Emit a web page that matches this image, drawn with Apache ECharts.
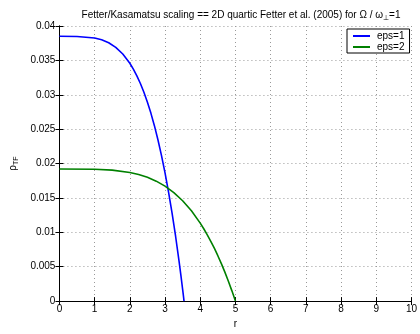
<!DOCTYPE html>
<html><head><meta charset="utf-8">
<script src="https://cdn.jsdelivr.net/npm/echarts@6/dist/echarts.min.js"></script>
<style>html,body{margin:0;padding:0;background:#fff}#c{width:420px;height:334px}</style>
</head><body><div id="c"></div>
<script>
var xTicks = [0,1,2,3,4,5,6,7,8,9,10];
var seriesNames = ['eps=1','eps=2'];
var eps1R = [0,0.5,1,1.2,1.4,1.6,1.8,2,2.1,2.2,2.3,2.4,2.5,2.6,2.7,2.8,2.9,3,3.1,3.2,3.3,3.4,3.45,3.5,3.52,3.54];
var eps1V = [0.0385,0.03848,0.03826,0.03799,0.03756,0.03689,0.03593,0.03458,0.03373,0.03276,0.03164,0.03037,0.02892,0.0273,0.02547,0.02343,0.02116,0.01864,0.01586,0.01279,0.00943,0.00574,0.00377,0.00171,0.00086,0];
var eps2R = [0,1,1.5,2,2.25,2.5,2.75,3,3.25,3.5,3.75,4,4.1,4.2,4.3,4.4,4.5,4.6,4.7,4.8,4.9,5];
var eps2V = [0.0192,0.01917,0.01904,0.01871,0.01841,0.0180,0.01744,0.01671,0.01577,0.01459,0.01313,0.01134,0.01052,0.00964,0.0087,0.00769,0.0066,0.00545,0.00421,0.00289,0.00149,0];

function pairs(a,b){return a.map(function(v,i){return [v,b[i]];});}
var font = 'Liberation Sans, Arial, Helvetica, sans-serif';
var chart = echarts.init(document.getElementById('c'));
chart.setOption({
  animation:false,
  backgroundColor:'#fff',
  title:{
    text:'Fetter/Kasamatsu scaling == 2D quartic Fetter et al. (2005) for Ω / ω{s|⊥}=1',
    left:236, top:3, textAlign:'center',
    textStyle:{fontFamily:font,fontSize:10,fontWeight:'normal',color:'#000',
      rich:{s:{fontFamily:font,fontSize:7,color:'#000',padding:[7,0,0,0]}}}
  },
  legend:{
    data:seriesNames.map(function(n){return {name:n,icon:'rect'};}),
    orient:'vertical', left:347, top:29,
    backgroundColor:'#fff', borderColor:'#000', borderWidth:1, borderRadius:0,
    padding:[2,5,1,6], itemGap:1, itemWidth:17, itemHeight:2,
    textStyle:{fontFamily:font,fontSize:10,color:'#000',lineHeight:10,padding:[0,0,0,2]}
  },
  grid:{left:54,right:7,top:26,bottom:25},
  xAxis:[{
    type:'value', min:0, max:10, interval:1,
    name:'r', nameLocation:'middle', nameGap:15,
    nameTextStyle:{fontFamily:font,fontSize:10,color:'#000'},
    axisLine:{show:true,onZero:false,lineStyle:{color:'#000',width:1}},
    axisTick:{show:true,inside:true,length:4,lineStyle:{color:'#000'}},
    axisLabel:{fontFamily:font,fontSize:10,color:'#000',margin:3},
    splitLine:{show:true,lineStyle:{color:'#999',type:[1,3],width:1}}
  },{
    type:'value', min:0, max:10, interval:1, position:'top',
    axisLine:{show:true,lineStyle:{color:'#000',width:1}},
    axisTick:{show:true,inside:true,length:4,lineStyle:{color:'#000'}},
    axisLabel:{show:false}, splitLine:{show:false}
  }],
  yAxis:[{
    type:'value', min:0, max:0.04, interval:0.005,
    name:'{a|ρ}{b|TF}', nameLocation:'middle', nameGap:30, nameRotate:90,
    nameTextStyle:{fontFamily:font,fontSize:10,color:'#000',
      rich:{a:{fontFamily:font,fontSize:10,color:'#000'},b:{fontFamily:font,fontSize:7,color:'#000',padding:[6,0,0,0]}}},
    axisLine:{show:true,onZero:false,lineStyle:{color:'#000',width:1}},
    axisTick:{show:true,inside:true,length:4,lineStyle:{color:'#000'}},
    axisLabel:{fontFamily:font,fontSize:10,color:'#000',margin:4},
    splitLine:{show:true,lineStyle:{color:'#999',type:[1,3],width:1}}
  },{
    type:'value', min:0, max:0.04, interval:0.005, position:'right',
    axisLine:{show:true,lineStyle:{color:'#000',width:1}},
    axisTick:{show:true,inside:true,length:4,lineStyle:{color:'#000'}},
    axisLabel:{show:false}, splitLine:{show:false}
  }],
  series:[{
    name:seriesNames[0], type:'line', data:pairs(eps1R,eps1V),
    smooth:false, showSymbol:false, symbol:'none',
    lineStyle:{color:'#0000ff',width:1.6}, itemStyle:{color:'#0000ff'}
  },{
    name:seriesNames[1], type:'line', data:pairs(eps2R,eps2V),
    smooth:false, showSymbol:false, symbol:'none',
    lineStyle:{color:'#008000',width:1.6}, itemStyle:{color:'#008000'}
  }]
});
</script></body></html>
